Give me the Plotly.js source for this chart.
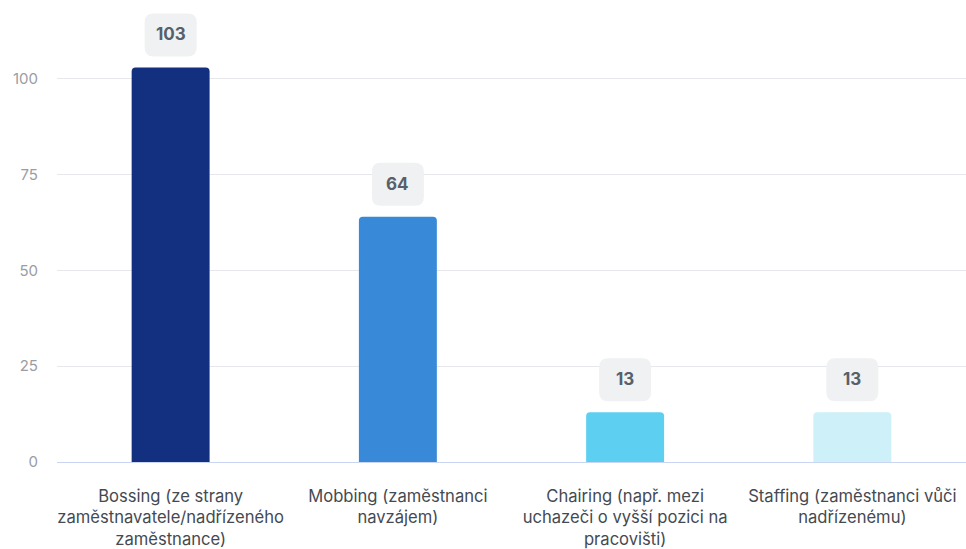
<!DOCTYPE html>
<html>
<head>
<meta charset="utf-8">
<script src="https://cdn.plot.ly/plotly-3.0.1.min.js"></script>
<style>
  html, body { margin: 0; padding: 0; background: #fff; }
  #chart { width: 966px; height: 549px; }
</style>
</head>
<body>
<div id="chart"></div>
<script>
// Forms of workplace bullying and how many respondents reported each
const categories = [
  'Bossing (ze strany<br>zaměstnavatele/nadřízeného<br>zaměstnance)',
  'Mobbing (zaměstnanci<br>navzájem)',
  'Chairing (např. mezi<br>uchazeči o vyšší pozici na<br>pracovišti)',
  'Staffing (zaměstnanci vůči<br>nadřízenému)'
];
const counts = [103, 64, 13, 13];
const barColors = ['#12307f', '#3889d8', '#5dcff1', '#cdf0f9'];
const yTicks = [0, 25, 50, 75, 100];

// Rounded badge above each bar, sized in pixels and anchored at the bar's value
function badgePath(w, y0, y1, r) {
  const x0 = -w / 2, x1 = w / 2;
  return `M ${x0 + r} ${y0} L ${x1 - r} ${y0} Q ${x1} ${y0} ${x1} ${y0 + r} ` +
         `L ${x1} ${y1 - r} Q ${x1} ${y1} ${x1 - r} ${y1} L ${x0 + r} ${y1} ` +
         `Q ${x0} ${y1} ${x0} ${y1 - r} L ${x0} ${y0 + r} Q ${x0} ${y0} ${x0 + r} ${y0} Z`;
}

const shapes = categories.map((c, i) => ({
  type: 'path',
  xref: 'x', yref: 'y',
  xsizemode: 'pixel', ysizemode: 'pixel',
  xanchor: i, yanchor: counts[i],
  path: badgePath(52, 11, 54, 9),
  fillcolor: '#eff1f2',
  line: { width: 0 },
  layer: 'above'
}));

const annotations = categories.map((c, i) => ({
  x: i, y: counts[i], xref: 'x', yref: 'y',
  text: '<b>' + counts[i] + '</b>',
  showarrow: false,
  yshift: 33,
  font: { family: 'Inter, sans-serif', size: 17, color: '#56606b' }
}));

const trace = {
  type: 'bar',
  x: categories.map((c, i) => i),
  y: counts,
  marker: { color: barColors, cornerradius: 4, line: { width: 0 } },
  hoverinfo: 'none'
};

const layout = {
  width: 966, height: 549,
  margin: { l: 57, r: 0, t: 0, b: 87 },
  paper_bgcolor: '#ffffff', plot_bgcolor: '#ffffff',
  showlegend: false,
  bargap: 0.657,
  font: { family: 'Inter, sans-serif' },
  xaxis: {
    tickmode: 'array',
    tickvals: categories.map((c, i) => i),
    ticktext: categories,
    range: [-0.5, 3.5],
    showgrid: false,
    zeroline: false,
    showline: false,
    ticks: '',
    ticklabelstandoff: 22,
    tickfont: { family: 'Inter, sans-serif', size: 16.6, color: '#444a52' },
    fixedrange: true
  },
  yaxis: {
    range: [0, 120.6],
    tickmode: 'array',
    tickvals: yTicks,
    ticktext: yTicks.map(String),
    showgrid: true,
    gridcolor: '#e6e7ea',
    gridwidth: 1,
    zeroline: true,
    zerolinecolor: '#c9d5f2',
    zerolinewidth: 1,
    showline: false,
    ticks: '',
    ticklabelstandoff: 18,
    tickfont: { family: 'Inter, sans-serif', size: 15, color: '#9a9da3' },
    fixedrange: true
  },
  shapes: shapes,
  annotations: annotations
};

Plotly.newPlot('chart', [trace], layout, { displayModeBar: false, staticPlot: true });
</script>
</body>
</html>
